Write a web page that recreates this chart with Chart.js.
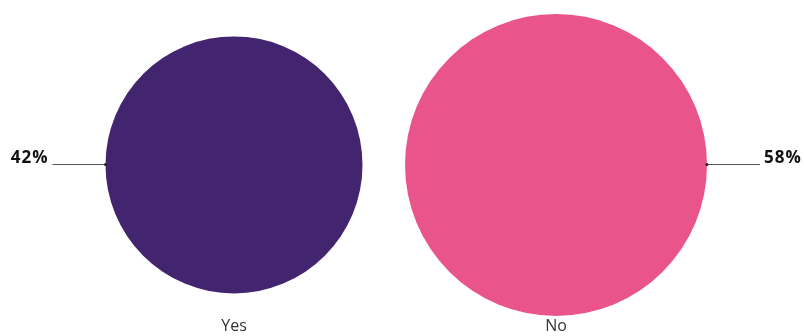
<!DOCTYPE html>
<html>
<head>
<meta charset="utf-8">
<script src="https://cdn.jsdelivr.net/npm/chart.js@4"></script>
<style>
  html, body { margin: 0; padding: 0; background: #fff; }
  #wrap { width: 804px; height: 336px; position: relative; }
</style>
</head>
<body>
<div id="wrap"><canvas id="c"></canvas></div>
<script>
// Survey answers and their shares (percent)
const categories = ['Yes', 'No'];
const shares = [42, 58];
const colors = ['#43246E', '#E9548B'];

// Pixel radius of the largest circle; circle area grows with the share
const maxRadius = 151;
const maxShare = Math.max(...shares);
const radiusOf = (v) => maxRadius * Math.sqrt(v / maxShare);

// Leader lines with the percentage beside each circle
const leaderLabels = {
  id: 'leaderLabels',
  afterDatasetsDraw(chart) {
    const ctx = chart.ctx;
    const meta = chart.getDatasetMeta(0);
    ctx.save();
    ctx.font = 'bold 17px "Open Sans", sans-serif';
    ctx.letterSpacing = '1px';
    ctx.textBaseline = 'middle';
    meta.data.forEach((el, i) => {
      const r = el.options.radius;
      const left = i === 0;
      const dir = left ? -1 : 1;
      const y = Math.floor(el.y) + 0.5;
      const x0 = el.x + dir * r;
      const x1 = x0 + dir * 53;
      ctx.strokeStyle = '#555';
      ctx.lineWidth = 1;
      ctx.beginPath();
      ctx.moveTo(x0, y);
      ctx.lineTo(x1, y);
      ctx.stroke();
      ctx.fillStyle = '#222';
      ctx.beginPath();
      ctx.arc(x0, y, 1.5, 0, Math.PI * 2);
      ctx.fill();
      ctx.fillStyle = '#111';
      ctx.textAlign = left ? 'right' : 'left';
      ctx.fillText(shares[i] + '%', x1 + dir * 4, y - 6);
    });
    ctx.restore();
  }
};

new Chart(document.getElementById('c'), {
  type: 'bubble',
  data: {
    labels: categories,
    datasets: [{
      data: categories.map((c, i) => ({ x: c, y: 0.5, r: radiusOf(shares[i]) })),
      backgroundColor: colors,
      borderWidth: 0,
      hoverRadius: 0,
      clip: false
    }]
  },
  options: {
    responsive: true,
    maintainAspectRatio: false,
    animation: false,
    events: [],
    layout: { autoPadding: false, padding: { left: 73, right: 87, top: 13, bottom: 0 } },
    plugins: { legend: { display: false }, tooltip: { enabled: false } },
    scales: {
      x: {
        type: 'category',
        labels: categories,
        offset: true,
        grid: { display: false, drawTicks: false },
        border: { display: false },
        ticks: { padding: 0, color: '#333', font: { family: '"Open Sans", sans-serif', size: 16 } }
      },
      y: { display: false, min: 0, max: 1 }
    }
  },
  plugins: [leaderLabels]
});
</script>
</body>
</html>
